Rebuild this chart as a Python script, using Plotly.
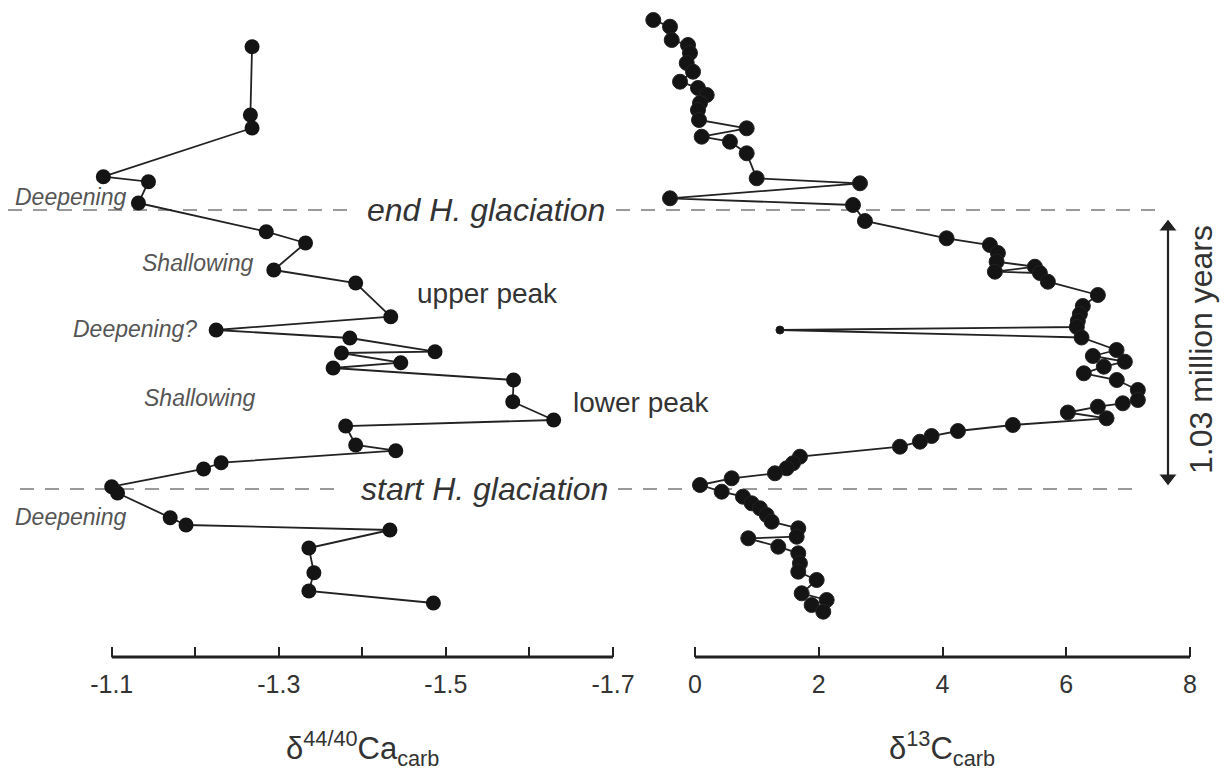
import plotly.graph_objects as go

# ---------------- data ----------------
# stratigraphic height (arbitrary units) and delta44/40Ca
ca_height = [61.03, 54.2, 52.9, 48.03, 47.53, 45.4, 42.53, 41.4, 38.7, 37.4, 34.03,
             32.7, 31.9, 30.53, 30.4, 29.43, 28.9, 27.7, 25.53, 23.7, 23.1, 21.2,
             20.63, 19.43, 18.8, 17.03, 16.4, 13.93, 13.2, 12.7, 10.9, 8.43, 6.6, 5.4]
ca_value = [-1.268, -1.266, -1.268, -1.090, -1.144, -1.132, -1.285, -1.332, -1.294,
            -1.392, -1.434, -1.225, -1.385, -1.487, -1.375, -1.446, -1.365, -1.581,
            -1.580, -1.629, -1.380, -1.392, -1.440, -1.231, -1.210, -1.100, -1.107,
            -1.170, -1.189, -1.433, -1.336, -1.342, -1.336, -1.485]

# stratigraphic height and delta13C
c_height = [63.7, 63.03, 61.7, 61.2, 60.4, 59.4, 58.53, 57.53, 56.9, 56.2, 55.4, 54.7,
            53.7, 52.87, 52.03, 51.53, 50.37, 47.87, 47.37, 45.87, 45.2, 43.6, 41.87,
            41.2, 40.4, 39.53, 39.03, 38.53, 38.4, 37.53, 36.2, 35.1, 34.3, 33.6, 33.0,
            32.7, 31.95, 30.7, 30.1, 29.53, 29.03, 28.37, 27.7, 26.7, 25.7, 25.37,
            25.03, 24.45, 23.87, 23.2, 22.6, 22.1, 21.53, 21.03, 20.03, 19.37, 18.87,
            18.37, 17.87, 17.2, 16.53, 16.03, 15.37, 14.87, 14.2, 13.53, 12.87, 12.03,
            11.87, 11.03, 10.37, 9.37, 8.53, 7.7, 6.37, 5.7, 5.2, 4.53]
c_value = [-0.674, -0.404, -0.376, -0.113, -0.081, -0.134, -0.032, -0.242, 0.048,
           0.189, 0.081, 0.048, 0.065, 0.835, 0.108, 0.565, 0.835, 0.997, 2.666,
           -0.404, 2.553, 2.746, 4.066, 4.766, 4.895, 4.874, 5.493, 4.847, 5.574,
           5.703, 6.511, 6.268, 6.220, 6.187, 6.171, 1.373, 6.247, 6.813, 6.430,
           6.947, 6.607, 6.284, 6.817, 7.157, 7.157, 6.914, 6.511, 6.026, 6.651,
           5.137, 4.249, 3.824, 3.635, 3.312, 1.696, 1.583, 1.481, 1.292, 0.593,
           0.081, 0.431, 0.775, 0.916, 1.050, 1.158, 1.239, 1.669, 1.643, 0.861,
           1.346, 1.669, 1.696, 1.669, 1.966, 1.724, 2.128, 1.885, 2.073]
c_small_point = 35  # index of the lone outlier drawn with a small dot

ca_tickvals = [-1.1, -1.3, -1.5, -1.7]
ca_ticktext = ["-1.1", "-1.3", "-1.5", "-1.7"]
ca_minor_tickvals = [-1.2, -1.4, -1.6]
c_tickvals = [0, 2, 4, 6, 8]
c_ticktext = ["0", "2", "4", "6", "8"]

end_glaciation_h = 44.7
start_glaciation_h = 16.8
arrow_top_h = 43.9
arrow_bottom_h = 17.0

# ---------------- layout helpers ----------------
W, H = 1225, 774
PLOT_BOTTOM = 657


def px(x):
    return x / W


def py(y):
    return (PLOT_BOTTOM - y) / PLOT_BOTTOM


LINE = "#222222"
DOT = "#141414"
TXT = "#333333"
FONT = "Liberation Sans, Arial, sans-serif"

fig = go.Figure()

fig.add_trace(go.Scatter(
    x=ca_value, y=ca_height, xaxis="x", yaxis="y", mode="lines+markers",
    line=dict(color=LINE, width=1.8),
    marker=dict(size=15, color=DOT, opacity=1),
    cliponaxis=False, showlegend=False, hoverinfo="x+y"))

c_sizes = [15] * len(c_value)
c_sizes[c_small_point] = 8
fig.add_trace(go.Scatter(
    x=c_value, y=c_height, xaxis="x2", yaxis="y", mode="lines+markers",
    line=dict(color=LINE, width=1.8),
    marker=dict(size=c_sizes, color=DOT, opacity=1, sizemode="diameter"),
    cliponaxis=False, showlegend=False, hoverinfo="x+y"))

# axis geometry (pixel positions of the axis ends)
ca_left_px, ca_right_px = 111.7, 613.0
c_left_px, c_right_px = 695.0, 1190.0
ca_per_px = (ca_tickvals[-1] - ca_tickvals[0]) / (ca_right_px - ca_left_px)
c_per_px = (c_tickvals[-1] - c_tickvals[0]) / (c_right_px - c_left_px)
dom1 = (0, 640)
dom2 = (640, 1225)
ca_range = [ca_tickvals[0] + (dom1[0] - ca_left_px) * ca_per_px,
            ca_tickvals[0] + (dom1[1] - ca_left_px) * ca_per_px]
c_range = [c_tickvals[0] + (dom2[0] - c_left_px) * c_per_px,
           c_tickvals[0] + (dom2[1] - c_left_px) * c_per_px]

tickfont = dict(family=FONT, size=25, color=TXT)
common_ax = dict(showgrid=False, zeroline=False, showline=False, ticks="inside",
                 ticklen=10, tickwidth=2.2, tickcolor=LINE, tickfont=tickfont,
                 anchor="y", fixedrange=True, ticklabelstandoff=10)

fig.update_layout(
    width=W, height=H,
    margin=dict(l=0, r=0, t=0, b=H - PLOT_BOTTOM),
    paper_bgcolor="white", plot_bgcolor="white",
    xaxis=dict(domain=[px(dom1[0]), px(dom1[1])], range=ca_range,
               tickmode="array", tickvals=ca_tickvals, ticktext=ca_ticktext,
               minor=dict(tickmode="array", tickvals=ca_minor_tickvals,
                          ticks="inside", ticklen=10, tickwidth=2.2,
                          tickcolor=LINE, showgrid=False),
               **common_ax),
    xaxis2=dict(domain=[px(dom2[0]), px(dom2[1])], range=c_range,
                tickmode="array", tickvals=c_tickvals, ticktext=c_ticktext,
                **common_ax),
    yaxis=dict(domain=[0, 1], range=[0, PLOT_BOTTOM / 10.0], visible=False,
               fixedrange=True),
)

shapes = []
# axis lines
shapes.append(dict(type="line", xref="x", yref="paper", x0=ca_tickvals[0],
                   x1=ca_tickvals[-1], y0=0, y1=0,
                   line=dict(color=LINE, width=3)))
shapes.append(dict(type="line", xref="x2", yref="paper", x0=c_tickvals[0],
                   x1=c_tickvals[-1], y0=0, y1=0,
                   line=dict(color=LINE, width=3)))
# glaciation dashed lines
dash_style = dict(color="#9a9a9a", width=2, dash="14px,11px")
for (a, b) in [(8, 352), (616, 1160)]:
    shapes.append(dict(type="line", xref="paper", yref="y", x0=px(a), x1=px(b),
                       y0=end_glaciation_h, y1=end_glaciation_h, line=dash_style,
                       layer="below"))
for (a, b) in [(20, 340), (618, 1132)]:
    shapes.append(dict(type="line", xref="paper", yref="y", x0=px(a), x1=px(b),
                       y0=start_glaciation_h, y1=start_glaciation_h,
                       line=dash_style, layer="below"))
# shaft of the double arrow
ARROW_PX = 1168
shapes.append(dict(type="line", xref="paper", yref="y", x0=px(ARROW_PX),
                   x1=px(ARROW_PX), y0=arrow_top_h - 1.2, y1=arrow_bottom_h + 1.2,
                   line=dict(color=LINE, width=2.2)))
fig.update_layout(shapes=shapes)

ann = []


def label(text, x, y, size, color=TXT, italic=False, angle=0):
    t = f"<i>{text}</i>" if italic else text
    ann.append(dict(text=t, x=px(x), y=py(y), xref="paper", yref="paper",
                    showarrow=False, xanchor="center", yanchor="middle",
                    textangle=angle,
                    font=dict(size=size, color=color, family=FONT)))


label("Deepening", 70, 197, 23, "#555555", True)
label("Shallowing", 197, 263, 23, "#555555", True)
label("Deepening?", 135, 329, 23, "#555555", True)
label("Shallowing", 199, 398, 23, "#555555", True)
label("Deepening", 70, 517, 23, "#555555", True)
label("upper peak", 487, 293, 28)
label("lower peak", 641, 402, 28)
label("end H. glaciation", 486, 210, 32, TXT, True)
label("start H. glaciation", 484, 489, 32, TXT, True)
label("1.03 million years", 1201, 350, 32, TXT, False, -90)

# axis titles
label("δ<sup>44/40</sup>Ca<sub>carb</sub>", 362, 748, 31)
label("δ<sup>13</sup>C<sub>carb</sub>", 942, 748, 31)

fig.update_layout(annotations=ann)

# arrow heads of the double arrow, placed on the right panel's axis
arrow_x = c_tickvals[0] + (ARROW_PX - c_left_px) * c_per_px
fig.add_trace(go.Scatter(
    x=[arrow_x, arrow_x], y=[arrow_top_h - 0.9, arrow_bottom_h + 0.9],
    xaxis="x2", yaxis="y", mode="markers",
    marker=dict(symbol=["triangle-up", "triangle-down"], size=[16, 16],
                color=LINE, opacity=1),
    cliponaxis=False, showlegend=False, hoverinfo="skip"))

fig.write_html("out.html")
